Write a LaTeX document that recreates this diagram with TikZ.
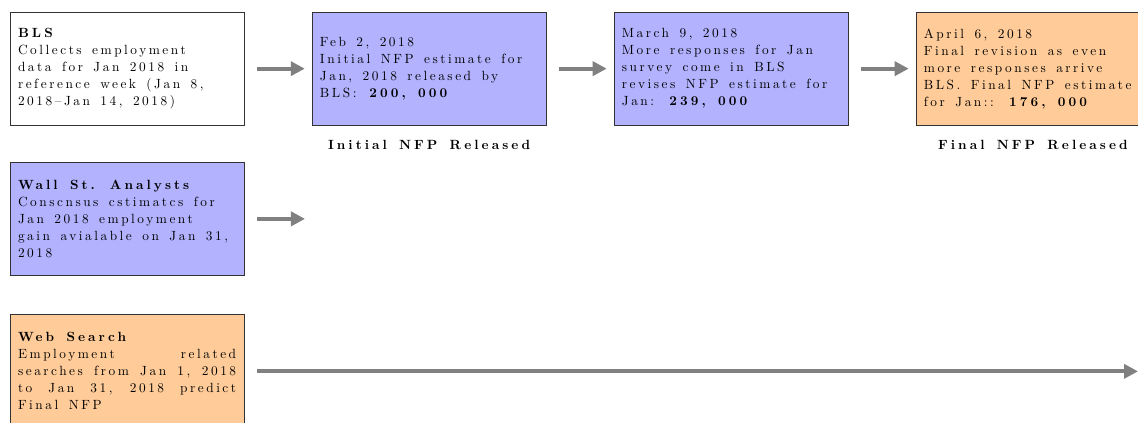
\documentclass[tikz,border=0pt]{standalone}
\usepackage{fontspec}
\setmainfont{Latin Modern Roman}[LetterSpace=19,WordSpace=1.5,BoldFeatures={LetterSpace=23}]
\usetikzlibrary{arrows.meta}

\begin{document}
\begin{tikzpicture}[
	box/.style={draw=black!80, line width=0.6pt, text width=5.75cm, inner xsep=0.21cm, minimum height=2.98cm, align=flush left, font=\fontsize{10}{12.75}\selectfont},
	flow/.style={-{Triangle[length=10.5pt,width=10.5pt]}, line width=3pt, gray, shorten <=0.32cm},
	caption/.style={font=\fontsize{10}{12}\selectfont\bfseries}
	]
		\clip (0,0) rectangle (30,-11.15);
		
		% first row: BLS releases
		\node[box] (bls) at (3.35,-1.81) {\textbf{BLS}\\Collects employment\\data for Jan 2018 in\\reference week (Jan 8,\\2018--Jan 14, 2018)};
		\node[box, fill=blue!30] (initial) at (11.31,-1.81) {Feb 2, 2018\\Initial NFP estimate for\\Jan, 2018 released by\\BLS: \textbf{200, 000}};
		\node[box, fill=blue!30] (revised) at (19.27,-1.81) {March 9, 2018\\More responses for Jan\\survey come in BLS\\revises NFP estimate for\\Jan: \textbf{239, 000}};
		\node[box, fill=orange!40] (final) at (27.23,-1.81) {April 6, 2018\\Final revision as even\\more responses arrive\\BLS. Final NFP estimate\\for Jan:: \textbf{176, 000}};
		
		\node[caption] (initlbl) at (11.31,-3.82) {Initial NFP Released};
		\node[caption] (finallbl) at (27.23,-3.82) {Final NFP Released};
		
		\foreach \a/\b in {bls/initial, initial/revised, revised/final}{
			\draw[flow, shorten >=0.18cm] (\a) -- (\b);
		}
		
		% analysts
		\node[box, fill=blue!30] (analysts) at (3.35,-5.77) {\textbf{Wall St. Analysts}\\Conscnsus cstimatcs for\\Jan 2018 employment\\gain avialable on Jan 31,\\2018};
		\coordinate (analystsend) at (8.04,-5.77);
		\draw[flow] (analysts) -- (analystsend);
		
		% web search
		\node[box, fill=orange!40, align=justify] (websearch) at (3.35,-9.79) {\textbf{Web Search}\\Employment related\linebreak searches from Jan 1, 2018\linebreak to Jan 31, 2018 predict\linebreak Final NFP};
		\coordinate (searchend) at (30,-9.79);
		\draw[flow] (websearch) -- (searchend);
	\end{tikzpicture}
\end{document}
